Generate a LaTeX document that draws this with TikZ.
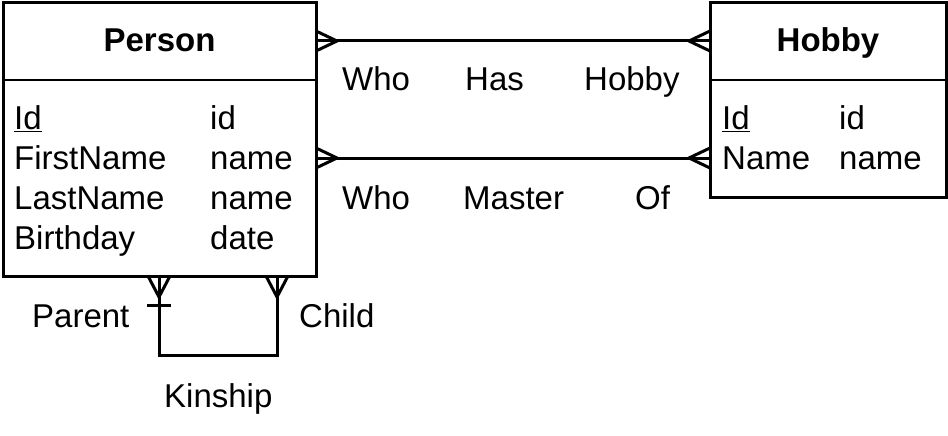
\documentclass[tikz,border=0pt]{standalone}
\usepackage{fontspec}
\setmainfont{Liberation Sans}
\usepackage{tikz}
\usetikzlibrary{positioning, calc}
\newcommand{\erfont}{\fontsize{33}{40}\selectfont}
\tikzset{
	entity/.style  ={rectangle, draw=black, line width=3pt, inner sep=0pt},
	etitle/.style  ={anchor=base, inner sep=0pt, font=\erfont\bfseries},
	attr/.style    ={anchor=base west, inner sep=0pt, font=\erfont},
	rellabel/.style={anchor=base west, inner sep=0pt, font=\erfont},
	relline/.style ={line width=3pt},
	sepline/.style ={line width=1.3pt},
}
\begin{document}
\begin{tikzpicture}[x=1pt, y=-1pt]
	\useasboundingbox (0,0) rectangle (948,436);
	% entities
	\node[entity, minimum width=313pt, minimum height=273pt] (person) at (159.5,139.5) {};
	\node[entity, minimum width=236pt, minimum height=194pt] (hobby) at (828,100) {};
	\draw[sepline] (3,80) -- (316,80);
	\draw[sepline] (710,80) -- (946,80);
	\node[etitle] (personT) at (159.5,52) {Person};
	\node[etitle] (hobbyT) at (828,52) {Hobby};
	\node[attr] (pId) at (14,129) {\underline{Id}};
	\node[attr] (pIdT) at (210,129) {id};
	\node[attr] (pFirst) at (14,169) {FirstName};
	\node[attr] (pFirstT) at (210,169) {name};
	\node[attr] (pLast) at (14,209) {LastName};
	\node[attr] (pLastT) at (210,209) {name};
	\node[attr] (pBirth) at (14,249) {Birthday};
	\node[attr] (pBirthT) at (210,249) {date};
	\node[attr] (hId) at (722,129) {\underline{Id}};
	\node[attr] (hIdT) at (839,129) {id};
	\node[attr] (hName) at (722,169) {Name};
	\node[attr] (hNameT) at (839,169) {name};
	% relationships
	\coordinate (hasP) at (316,41);
	\coordinate (hasH) at (710,41);
	\coordinate (masP) at (316,158);
	\coordinate (masH) at (710,158);
	\coordinate (parP) at (159,276);
	\coordinate (chiP) at (277,276);
	\draw[relline] (hasP) -- (hasH);
	\draw[relline] ($(hasP)+(0,-10)$) -- ($(hasP)+(21,0)$) -- ($(hasP)+(0,10)$);
	\draw[relline] ($(hasH)+(0,-10)$) -- ($(hasH)+(-21,0)$) -- ($(hasH)+(0,10)$);
	\draw[relline] (masP) -- (masH);
	\draw[relline] ($(masP)+(0,-10)$) -- ($(masP)+(21,0)$) -- ($(masP)+(0,10)$);
	\draw[relline] ($(masH)+(0,-10)$) -- ($(masH)+(-21,0)$) -- ($(masH)+(0,10)$);
	\draw[relline] (parP) -- ++(0,79) -| (chiP);
	\draw[relline] ($(parP)+(-11,0)$) -- ($(parP)+(0,21)$) -- ($(parP)+(11,0)$);
	\draw[relline] ($(parP)+(-12,29)$) -- ($(parP)+(12,29)$);
	\draw[relline] ($(chiP)+(-11,0)$) -- ($(chiP)+(0,21)$) -- ($(chiP)+(11,0)$);
	\node[rellabel] (hasWho) at (342,91) {Who};
	\node[rellabel] (hasHas) at (465,91) {Has};
	\node[rellabel] (hasHobby) at (584,91) {Hobby};
	\node[rellabel] (masWho) at (342,209) {Who};
	\node[rellabel] (masMaster) at (463,209) {Master};
	\node[rellabel] (masOf) at (635,209) {Of};
	\node[rellabel] (parent) at (32,327) {Parent};
	\node[rellabel] (child) at (299,327) {Child};
	\node[rellabel] (kinship) at (164,407) {Kinship};
\end{tikzpicture}
\end{document}
